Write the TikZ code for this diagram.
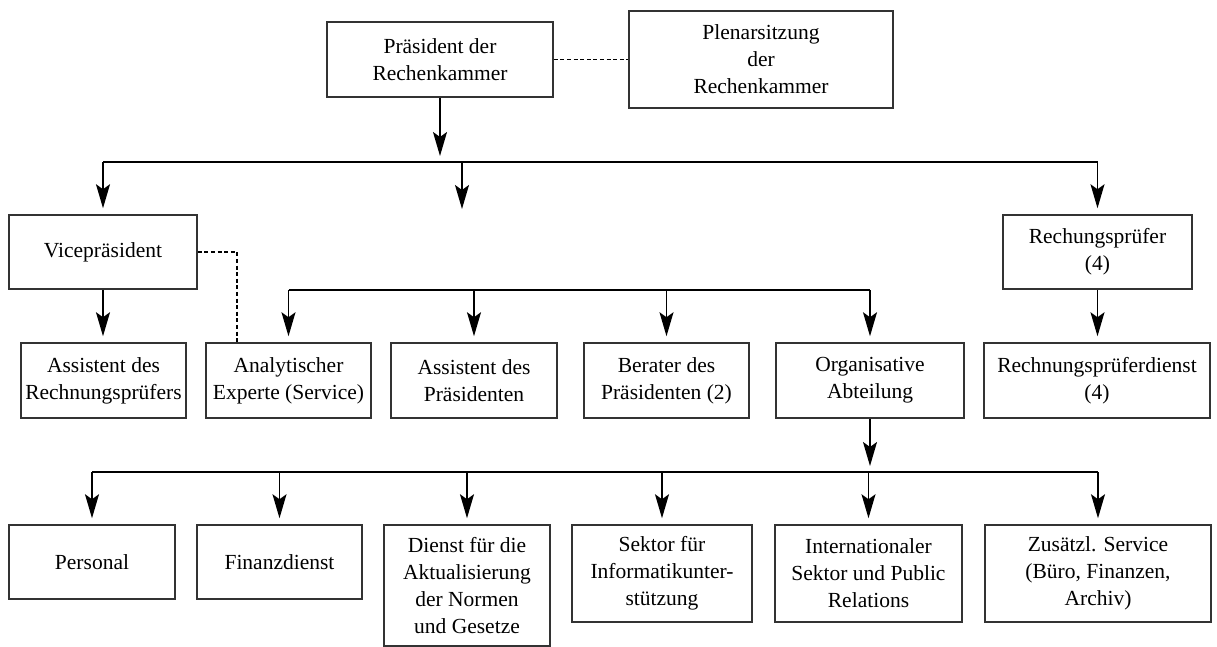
\documentclass[tikz,border=0pt]{standalone}
\usepackage{fontspec}
\setmainfont{Liberation Serif}
\usetikzlibrary{arrows.meta}

\begin{document}
\begin{tikzpicture}[x=0.5pt, y=-0.5pt, line width=0.75pt,
  unit/.style={draw=black!80, line width=0.75pt, rectangle, align=center, inner sep=0pt,
    font=\rmfamily\fontsize{10.75}{13.5}\selectfont},
  link/.style={-{Stealth[length=12pt, width=7pt, inset=2.5pt]}, shorten >=3pt},
  aside/.style={dash pattern=on 2pt off 1.3pt, line width=0.6pt}]
  \useasboundingbox (0,0) rectangle (1217,647);

  % top
  \node[unit, minimum width=113pt, minimum height=37.5pt] (pres) at (440,59.5) {Präsident der\\Rechenkammer};
  \node[unit, minimum width=132pt, minimum height=48.5pt] (plenum) at (761,59.5) {Plenarsitzung\\der\\Rechenkammer};

  % second row
  \node[unit, minimum width=94pt, minimum height=37pt] (vice) at (103,252) {Vicepräsident};
  \node[unit, minimum width=94.5pt, minimum height=37pt] (rpruef) at (1097.5,252) {Rechungsprüfer\\(4)};

  % third row
  \node[unit, minimum width=82.5pt, minimum height=37.5pt] (asstR) at (103.5,380.5) {Assistent des\\Rechnungsprüfers};
  \node[unit, minimum width=82.5pt, minimum height=37.5pt] (analyt) at (288.5,380.5) {Analytischer\\Experte (Service)};
  \node[unit, minimum width=83pt, minimum height=37.5pt] (asstP) at (474,380.5) {Assistent des\\Präsidenten};
  \node[unit, minimum width=82.5pt, minimum height=37.5pt] (berater) at (666.5,380.5) {Berater des\\Präsidenten (2)};
  \node[unit, minimum width=94pt, minimum height=37.5pt] (orgab) at (870,380.5) {Organisative\\Abteilung};
  \node[unit, minimum width=113pt, minimum height=37.5pt] (rdienst) at (1097,380.5) {Rechnungsprüferdienst\\(4)};

  % fourth row
  \node[unit, minimum width=83pt, minimum height=37pt] (personal) at (92,562) {Personal};
  \node[unit, minimum width=82.5pt, minimum height=37pt] (finanz) at (279.5,562) {Finanzdienst};
  \node[unit, minimum width=83pt, minimum height=60.5pt] (dienst) at (467,585.5) {Dienst für die\\Aktualisierung\\der Normen\\und Gesetze};
  \node[unit, minimum width=90pt, minimum height=48.5pt] (sektor) at (662,573.5) {Sektor für\\Informatikunter-\\stützung};
  \node[unit, minimum width=93.5pt, minimum height=48.5pt] (intl) at (868.5,573.5) {Internationaler\\Sektor und Public\\Relations};
  \node[unit, minimum width=113pt, minimum height=48.5pt] (zusatz) at (1098,573.5) {Zusätzl. Service\\(Büro, Finanzen,\\Archiv)};

  \coordinate (bar1) at (0,162);
  \coordinate (bar2) at (0,290);
  \coordinate (bar3) at (0,472);
  \coordinate (mid) at (462,215);

  \draw[aside] (pres) -- (plenum);
  \draw[aside] (vice.east) -| ([xshift=-25.75pt]analyt.north);

  \draw[link] (pres.south) -- (pres |- bar1);
  \draw (vice |- bar1) -- (rpruef |- bar1);
  \draw[link] (vice |- bar1) -- (vice);
  \draw[link] (mid |- bar1) -- (mid);
  \draw[link] (rpruef |- bar1) -- (rpruef);

  \draw[link] (vice) -- (vice |- asstR.north);
  \draw[link] (rpruef) -- (rpruef |- rdienst.north);

  \draw (analyt |- bar2) -- (orgab |- bar2);
  \foreach \n in {analyt, asstP, berater, orgab}
    \draw[link] (\n |- bar2) -- (\n);

  \draw[link] (orgab.south) -- (orgab |- bar3);
  \draw (personal |- bar3) -- (zusatz |- bar3);
  \foreach \n in {personal, finanz, dienst, sektor, intl, zusatz}
    \draw[link] (\n |- bar3) -- (\n);
\end{tikzpicture}
\end{document}
